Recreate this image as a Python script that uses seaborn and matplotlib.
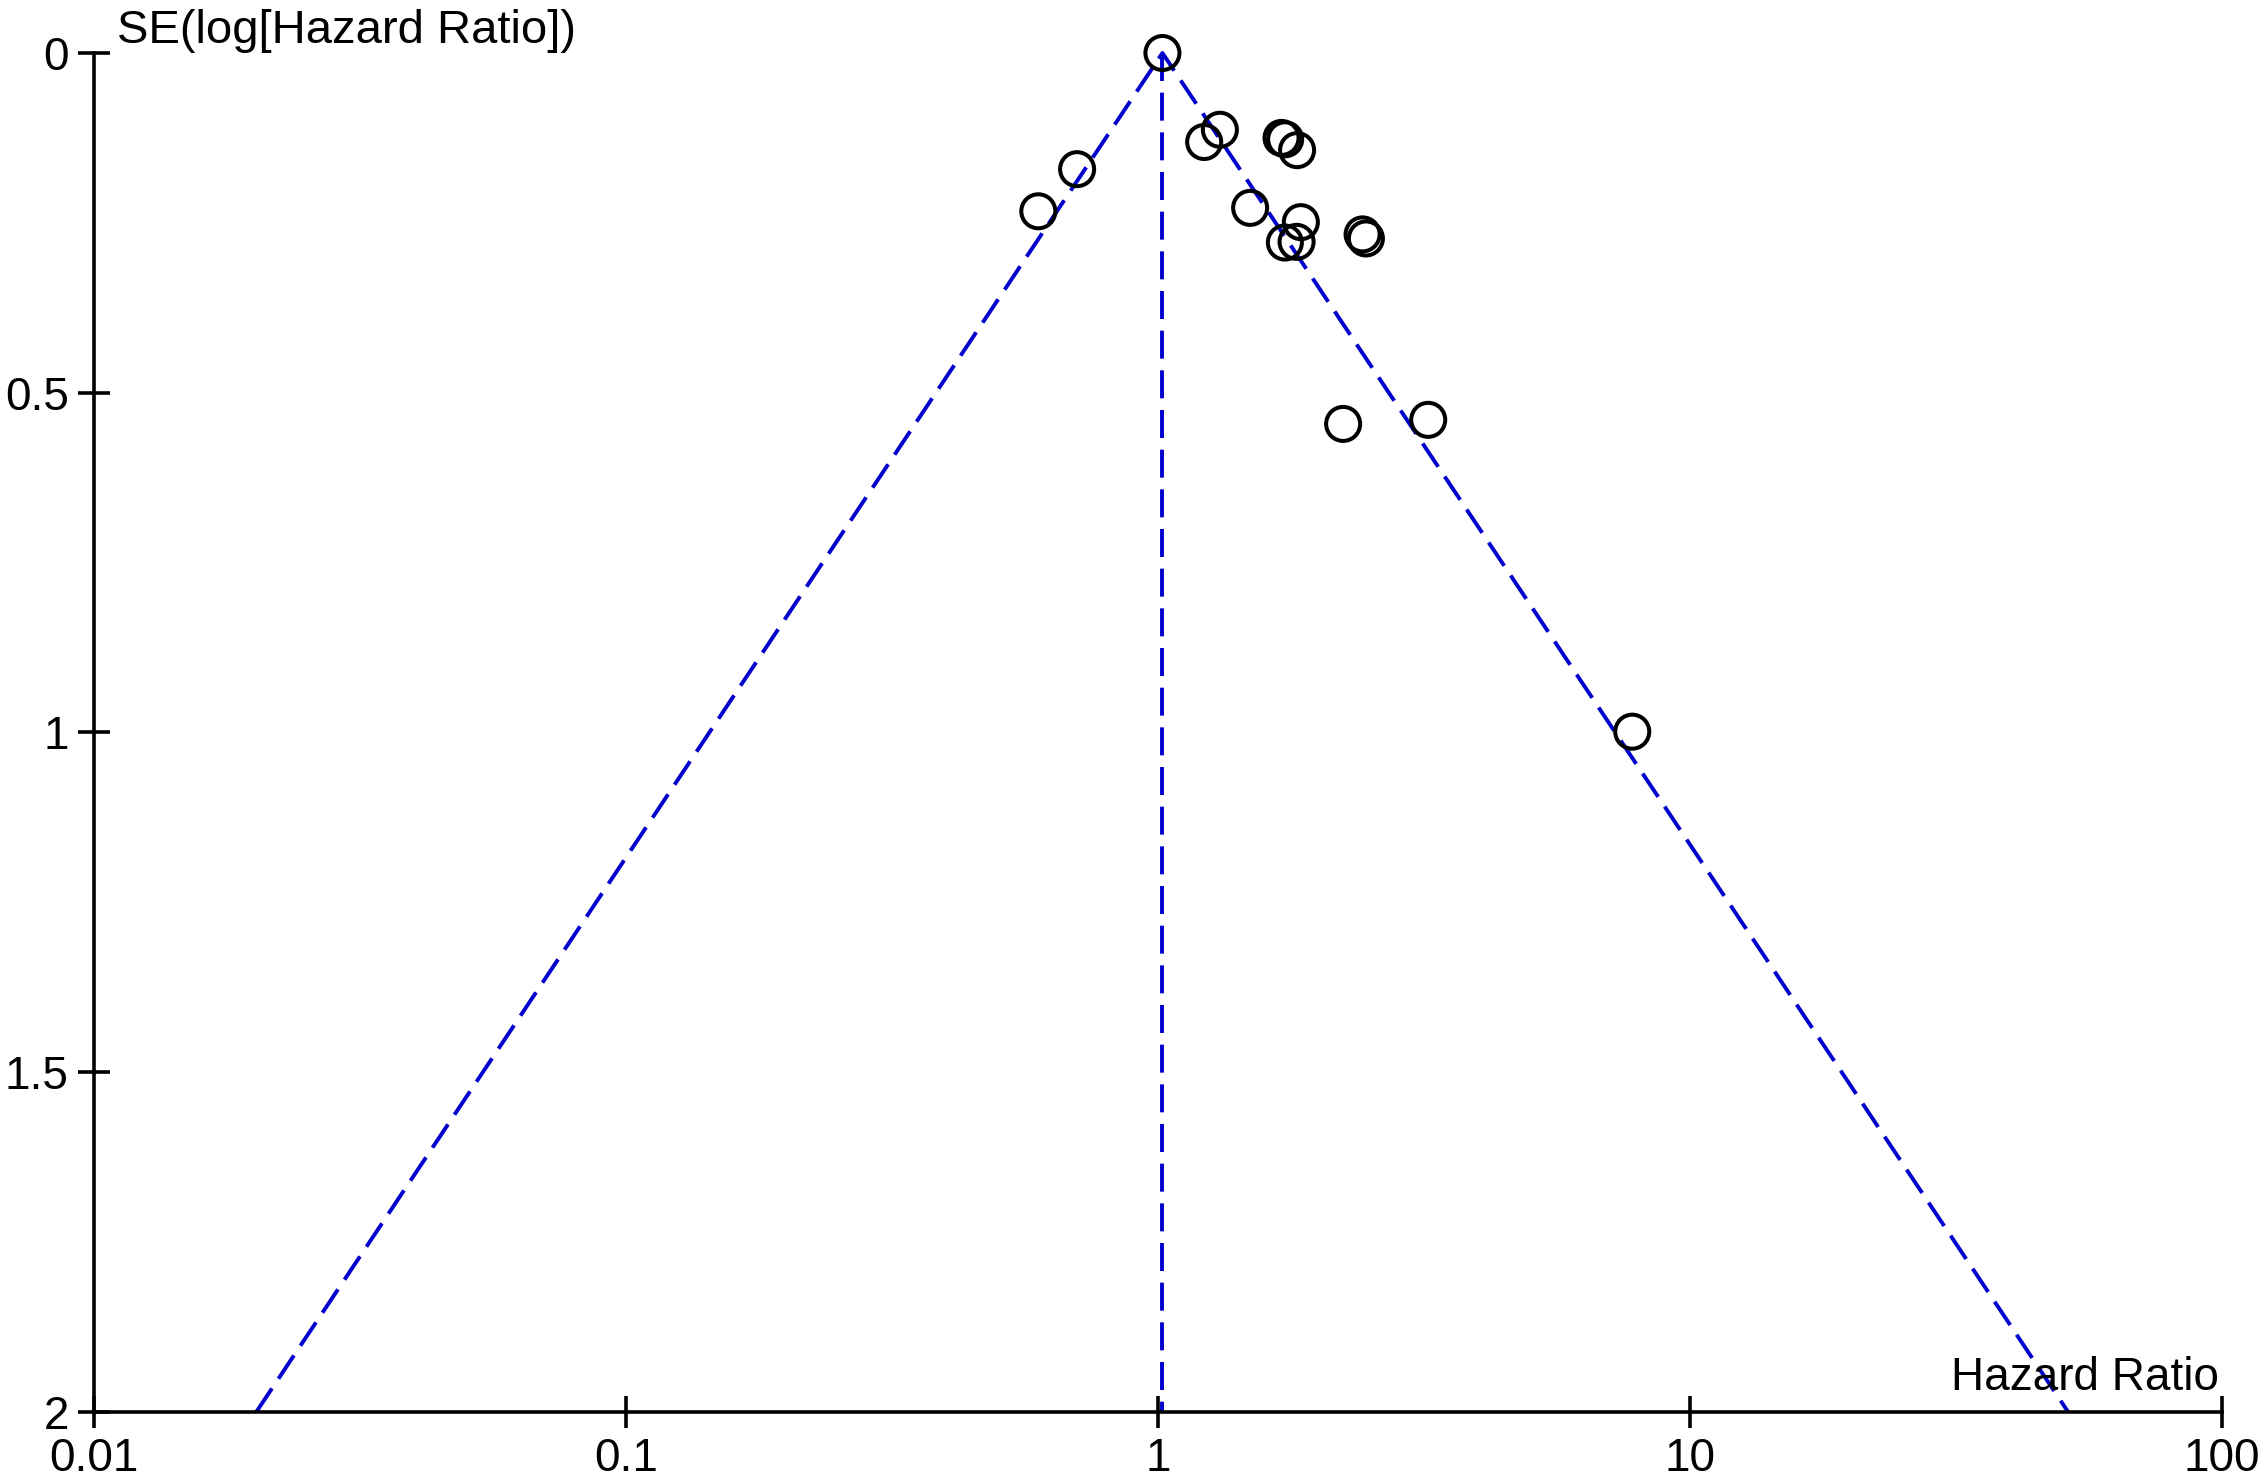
"""Funnel plot of hazard ratios against SE(log HR)."""

import matplotlib

matplotlib.use("Agg")
import matplotlib.pyplot as plt
import pandas as pd
import seaborn as sns

# study estimates
study_hr = [1.02, 0.705, 0.596, 1.222, 1.308, 1.708, 1.735, 1.827, 1.491,
            1.857, 1.733, 1.823, 2.426, 2.461, 2.230, 3.223, 7.795]
study_se = [0.0, 0.171, 0.233, 0.131, 0.113, 0.125, 0.127, 0.143, 0.228,
            0.249, 0.279, 0.278, 0.267, 0.273, 0.546, 0.540, 0.999]

# pooled estimate and 95% funnel limits at SE = 2
pooled_hr = 1.02
funnel_hr = [0.0202, 1.02, 51.4]
funnel_se = [2.0, 0.0, 2.0]

x_ticks = [0.01, 0.1, 1, 10, 100]
x_labels = ["0.01", "0.1", "1", "10", "100"]
y_ticks = [0, 0.5, 1, 1.5, 2]
y_labels = ["0", "0.5", "1", "1.5", "2"]

sns.set_theme(style="white")
plt.rcParams["font.family"] = ["Liberation Sans", "DejaVu Sans"]

studies = pd.DataFrame({"hr": study_hr, "se": study_se})

fig = plt.figure(figsize=(22.68, 14.79), dpi=100)
ax = fig.add_axes([0.04145, 0.0455, 0.97959 - 0.04145, 0.96417 - 0.0455])

blue = "#0000cc"
ax.plot(funnel_hr, funnel_se, color=blue, linewidth=2.8, dashes=(7.2, 3.0), clip_on=False)
ax.plot([pooled_hr, pooled_hr], [0, 2], color=blue, linewidth=2.8, dashes=(7.2, 3.0), clip_on=False)

sns.scatterplot(data=studies, x="hr", y="se", ax=ax, marker="o", s=600,
                facecolors="none", edgecolor="black", linewidth=2.9,
                clip_on=False, zorder=3, legend=False)

ax.set_xscale("log")
ax.set_xlim(0.01, 100)
ax.set_ylim(2, 0)
ax.set_xticks(x_ticks)
ax.set_xticklabels(x_labels)
ax.set_yticks(y_ticks)
ax.set_yticklabels(y_labels)
ax.minorticks_off()
ax.set_xlabel("")
ax.set_ylabel("")

for side in ["top", "right"]:
    ax.spines[side].set_visible(False)
for side in ["left", "bottom"]:
    ax.spines[side].set_color("black")
    ax.spines[side].set_linewidth(2.6)

ax.tick_params(axis="both", which="major", direction="inout", length=22.5,
               width=2.6, color="black", labelsize=33, labelcolor="black",
               pad=7, bottom=True, left=True, top=False, right=False)
ax.set_facecolor("white")

fig.text(0.05146, 0.97093, "SE(log[Hazard Ratio])", fontsize=34, color="black",
         ha="left", va="baseline")
fig.text(0.9784, 0.06018, "Hazard Ratio", fontsize=33, color="black",
         ha="right", va="baseline")

fig.savefig("out.png", dpi=100, facecolor="white")
